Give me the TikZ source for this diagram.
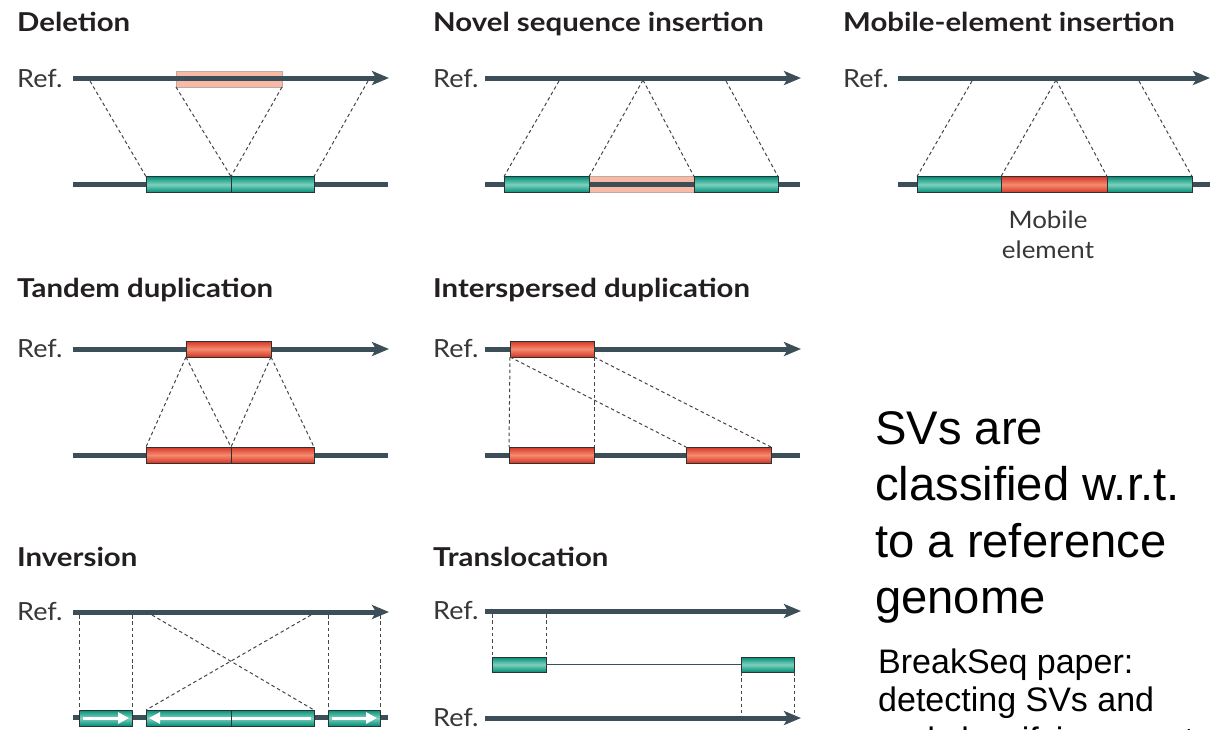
\documentclass[tikz,border=0pt]{standalone}
\usepackage{fontspec}
\setmainfont{Lato}
\newfontfamily\headfont{Lato}[FakeStretch=1.13]
\newfontfamily\labfont{Lato}[FakeStretch=1.08]
\newfontfamily\arialfont{Liberation Sans}
\usetikzlibrary{arrows.meta}

\definecolor{chrom}{RGB}{60,78,88}
\definecolor{tealD}{RGB}{0,142,120}
\definecolor{tealL}{RGB}{125,208,188}
\definecolor{redD}{RGB}{214,52,36}
\definecolor{redL}{RGB}{244,140,112}
\definecolor{pinkF}{RGB}{248,186,164}
\definecolor{pinkE}{RGB}{190,170,165}
\definecolor{boxedge}{RGB}{40,52,52}
\definecolor{dashc}{RGB}{70,70,70}
\definecolor{titlec}{RGB}{35,31,32}
\definecolor{labc}{RGB}{55,55,55}

\tikzset{
  chr/.style={draw=chrom, line width=5pt},
  refarrow/.style={chr, -{Stealth[length=17pt,width=14pt,inset=4pt]}},
  seg/.style={draw=boxedge, line width=1pt, minimum height=16pt, inner sep=0pt, outer sep=0pt},
  tealbox/.style={seg, top color=tealD, bottom color=tealD, middle color=tealL},
  redbox/.style={seg, top color=redD, bottom color=redD, middle color=redL},
  pinkbox/.style={draw=pinkE, line width=0.8pt, fill=pinkF, minimum height=16pt, inner sep=0pt, outer sep=0pt},
  link/.style={draw=dashc, line width=1pt, dash pattern=on 3.5pt off 2.8pt},
  ptitle/.style={anchor=base west, inner sep=0pt, text=titlec, font=\headfont\bfseries\fontsize{26}{30}\selectfont},
  reflab/.style={anchor=base west, inner sep=0pt, text=labc, font=\labfont\fontsize{25}{30}\selectfont},
  flip/.style={draw=white, line width=3pt, -{Triangle[length=11pt,width=11pt]}},
  bigtxt/.style={anchor=base west, inner sep=0pt, font=\arialfont\fontsize{47.2}{55}\selectfont},
  smalltxt/.style={anchor=base west, inner sep=0pt, font=\arialfont\fontsize{34}{40}\selectfont},
}

\begin{document}
\begin{tikzpicture}[x=1pt,y=-1pt]
\fill[white] (0,0) rectangle (1210,729);
\clip (0,0) rectangle (1210,729);

% ---------------- Deletion ----------------
\node[ptitle] (tA) at (17,31) {Deletion};
\node[reflab] (rA) at (17,87) {Ref.};
\node[pinkbox, minimum width=106pt] (A-del) at (229,79) {};
\coordinate (A-s) at (73,78); \coordinate (A-e) at (389,78);
\draw[refarrow] (A-s) -- (A-e);
\coordinate (A-bs) at (73,184); \coordinate (A-be) at (388,184);
\draw[chr] (A-bs) -- (A-be);
\node[tealbox, minimum width=85pt] (A-l) at (188.5,184.5) {};
\node[tealbox, minimum width=83pt] (A-r) at (272.5,184.5) {};
\coordinate (A-p1) at (90,81); \coordinate (A-p2) at (368,81);
\draw[link] (A-p1) -- (A-l.north west);
\draw[link] (A-del.south west) -- (A-l.north east);
\draw[link] (A-del.south east) -- (A-r.north west);
\draw[link] (A-p2) -- (A-r.north east);

% ---------------- Novel sequence insertion ----------------
\node[ptitle] (tB) at (433,31) {Novel sequence insertion};
\node[reflab] (rB) at (433,87) {Ref.};
\coordinate (B-s) at (485,78); \coordinate (B-e) at (801,78);
\draw[refarrow] (B-s) -- (B-e);
\node[pinkbox, minimum width=105pt] (B-n) at (641.5,184.5) {};
\coordinate (B-bs) at (485,184); \coordinate (B-be) at (800,184);
\draw[chr] (B-bs) -- (B-be);
\node[tealbox, minimum width=85pt] (B-l) at (546.5,184.5) {};
\node[tealbox, minimum width=84pt] (B-r) at (736,184.5) {};
\coordinate (B-p1) at (559,81); \coordinate (B-p2) at (643,80); \coordinate (B-p3) at (726,81);
\draw[link] (B-p1) -- (B-l.north west);
\draw[link] (B-p2) -- (B-l.north east);
\draw[link] (B-p2) -- (B-r.north west);
\draw[link] (B-p3) -- (B-r.north east);

% ---------------- Mobile-element insertion ----------------
\node[ptitle] (tC) at (843,31) {Mobile-element insertion};
\node[reflab] (rC) at (843,87) {Ref.};
\coordinate (C-s) at (898,78); \coordinate (C-e) at (1210,78);
\draw[refarrow] (C-s) -- (C-e);
\coordinate (C-bs) at (898,184); \coordinate (C-be) at (1212,184);
\draw[chr] (C-bs) -- (C-be);
\node[tealbox, minimum width=84pt] (C-l) at (959,184.5) {};
\node[redbox, minimum width=106pt] (C-m) at (1054,184.5) {};
\node[tealbox, minimum width=85pt] (C-r) at (1149.5,184.5) {};
\coordinate (C-p1) at (972,81); \coordinate (C-p2) at (1056,80); \coordinate (C-p3) at (1139,81);
\draw[link] (C-p1) -- (C-l.north west);
\draw[link] (C-p2) -- (C-m.north west);
\draw[link] (C-p2) -- (C-m.north east);
\draw[link] (C-p3) -- (C-r.north east);
\node[anchor=base, inner sep=0pt, text=labc, font=\labfont\fontsize{24}{30}\selectfont] (C-lab1) at (1048,228) {Mobile};
\node[anchor=base, inner sep=0pt, text=labc, font=\labfont\fontsize{24}{30}\selectfont] (C-lab2) at (1048,258) {element};

% ---------------- Tandem duplication ----------------
\node[ptitle] (tD) at (17,297) {Tandem duplication};
\node[reflab] (rD) at (17,357) {Ref.};
\coordinate (D-s) at (73,349); \coordinate (D-e) at (389,349);
\draw[refarrow] (D-s) -- (D-e);
\node[redbox, minimum width=85pt] (D-ref) at (228.5,349) {};
\coordinate (D-bs) at (73,455); \coordinate (D-be) at (388,455);
\draw[chr] (D-bs) -- (D-be);
\node[redbox, minimum width=85pt] (D-l) at (188.5,455) {};
\node[redbox, minimum width=83pt] (D-r) at (272.5,455) {};
\draw[link] (D-ref.south west) -- (D-l.north west);
\draw[link] (D-ref.south west) -- (D-l.north east);
\draw[link] (D-ref.south east) -- (D-r.north west);
\draw[link] (D-ref.south east) -- (D-r.north east);

% ---------------- Interspersed duplication ----------------
\node[ptitle] (tE) at (433,297) {Interspersed duplication};
\node[reflab] (rE) at (433,357) {Ref.};
\coordinate (E-s) at (485,349); \coordinate (E-e) at (801,349);
\draw[refarrow] (E-s) -- (E-e);
\node[redbox, minimum width=84pt] (E-ref) at (552,349) {};
\coordinate (E-bs) at (485,455); \coordinate (E-be) at (800,455);
\draw[chr] (E-bs) -- (E-be);
\node[redbox, minimum width=85pt] (E-a) at (551.5,455) {};
\node[redbox, minimum width=85pt] (E-b) at (728.5,455) {};
\draw[link] (E-ref.south west) -- (E-a.north west);
\draw[link] (E-ref.south east) -- (E-a.north east);
\draw[link] (E-ref.south west) -- (E-b.north west);
\draw[link] (E-ref.south east) -- (E-b.north east);

% ---------------- Inversion ----------------
\node[ptitle] (tF) at (17,566) {Inversion};
\node[reflab] (rF) at (17,620) {Ref.};
\coordinate (F-s) at (73,612); \coordinate (F-e) at (389,612);
\draw[refarrow] (F-s) -- (F-e);
\coordinate (F-bs) at (73,717); \coordinate (F-be) at (388,717);
\draw[chr] (F-bs) -- (F-be);
\node[tealbox, minimum width=53pt] (F-1) at (105.5,718) {};
\node[tealbox, minimum width=85pt] (F-2) at (188.5,718) {};
\node[tealbox, minimum width=83pt] (F-3) at (272.5,718) {};
\node[tealbox, minimum width=52pt] (F-4) at (354,718) {};
\draw[flip] ([xshift=4pt]F-1.west) -- ([xshift=-3pt]F-1.east);
\draw[flip] ([xshift=-3pt]F-3.east) -- ([xshift=3pt]F-2.west);
\draw[flip] ([xshift=4pt]F-4.west) -- ([xshift=-3pt]F-4.east);
\draw[draw=boxedge, line width=1pt] (F-2.north east) -- (F-2.south east);
\coordinate (F-v1) at (79,615); \coordinate (F-v2) at (132,615);
\coordinate (F-v3) at (328,615); \coordinate (F-v4) at (380,615);
\coordinate (F-x1) at (152,615); \coordinate (F-x2) at (311,615);
\draw[link] (F-v1) -- (F-1.north west);
\draw[link] (F-v2) -- (F-1.north east);
\draw[link] (F-v3) -- (F-4.north west);
\draw[link] (F-v4) -- (F-4.north east);
\draw[link] (F-x1) -- (F-3.north east);
\draw[link] (F-x2) -- (F-2.north west);

% ---------------- Translocation ----------------
\node[ptitle] (tG) at (433,566) {Translocation};
\node[reflab] (rG1) at (433,619) {Ref.};
\node[reflab] (rG2) at (433,726) {Ref.};
\coordinate (G-s) at (485,611); \coordinate (G-e) at (801,611);
\draw[refarrow] (G-s) -- (G-e);
\node[tealbox, minimum width=54pt, minimum height=15pt] (G-a) at (519,664.5) {};
\node[tealbox, minimum width=53pt, minimum height=15pt] (G-b) at (767.5,664.5) {};
\draw[draw=chrom, line width=1.6pt] (G-a.east) -- (G-b.west);
\coordinate (G-s2) at (485,718); \coordinate (G-e2) at (801,718);
\draw[refarrow] (G-s2) -- (G-e2);
\coordinate (G-p1) at (492,614); \coordinate (G-p2) at (546,614);
\coordinate (G-q1) at (741,715); \coordinate (G-q2) at (794,715);
\draw[link] (G-p1) -- (G-a.north west);
\draw[link] (G-p2) -- (G-a.north east);
\draw[link] (G-b.south west) -- (G-q1);
\draw[link] (G-b.south east) -- (G-q2);

% ---------------- Side note ----------------
\node[bigtxt] (n1) at (875,444) {SVs are};
\node[bigtxt] (n2) at (875,500) {classified w.r.t.};
\node[bigtxt] (n3) at (875,557) {to a reference};
\node[bigtxt] (n4) at (875,613) {genome};
\node[smalltxt] (m1) at (878,673) {BreakSeq paper:};
\node[smalltxt] (m2) at (878,711) {detecting SVs and};
\node[smalltxt] (m3) at (878,751) {and classifying events};
\end{tikzpicture}
\end{document}
